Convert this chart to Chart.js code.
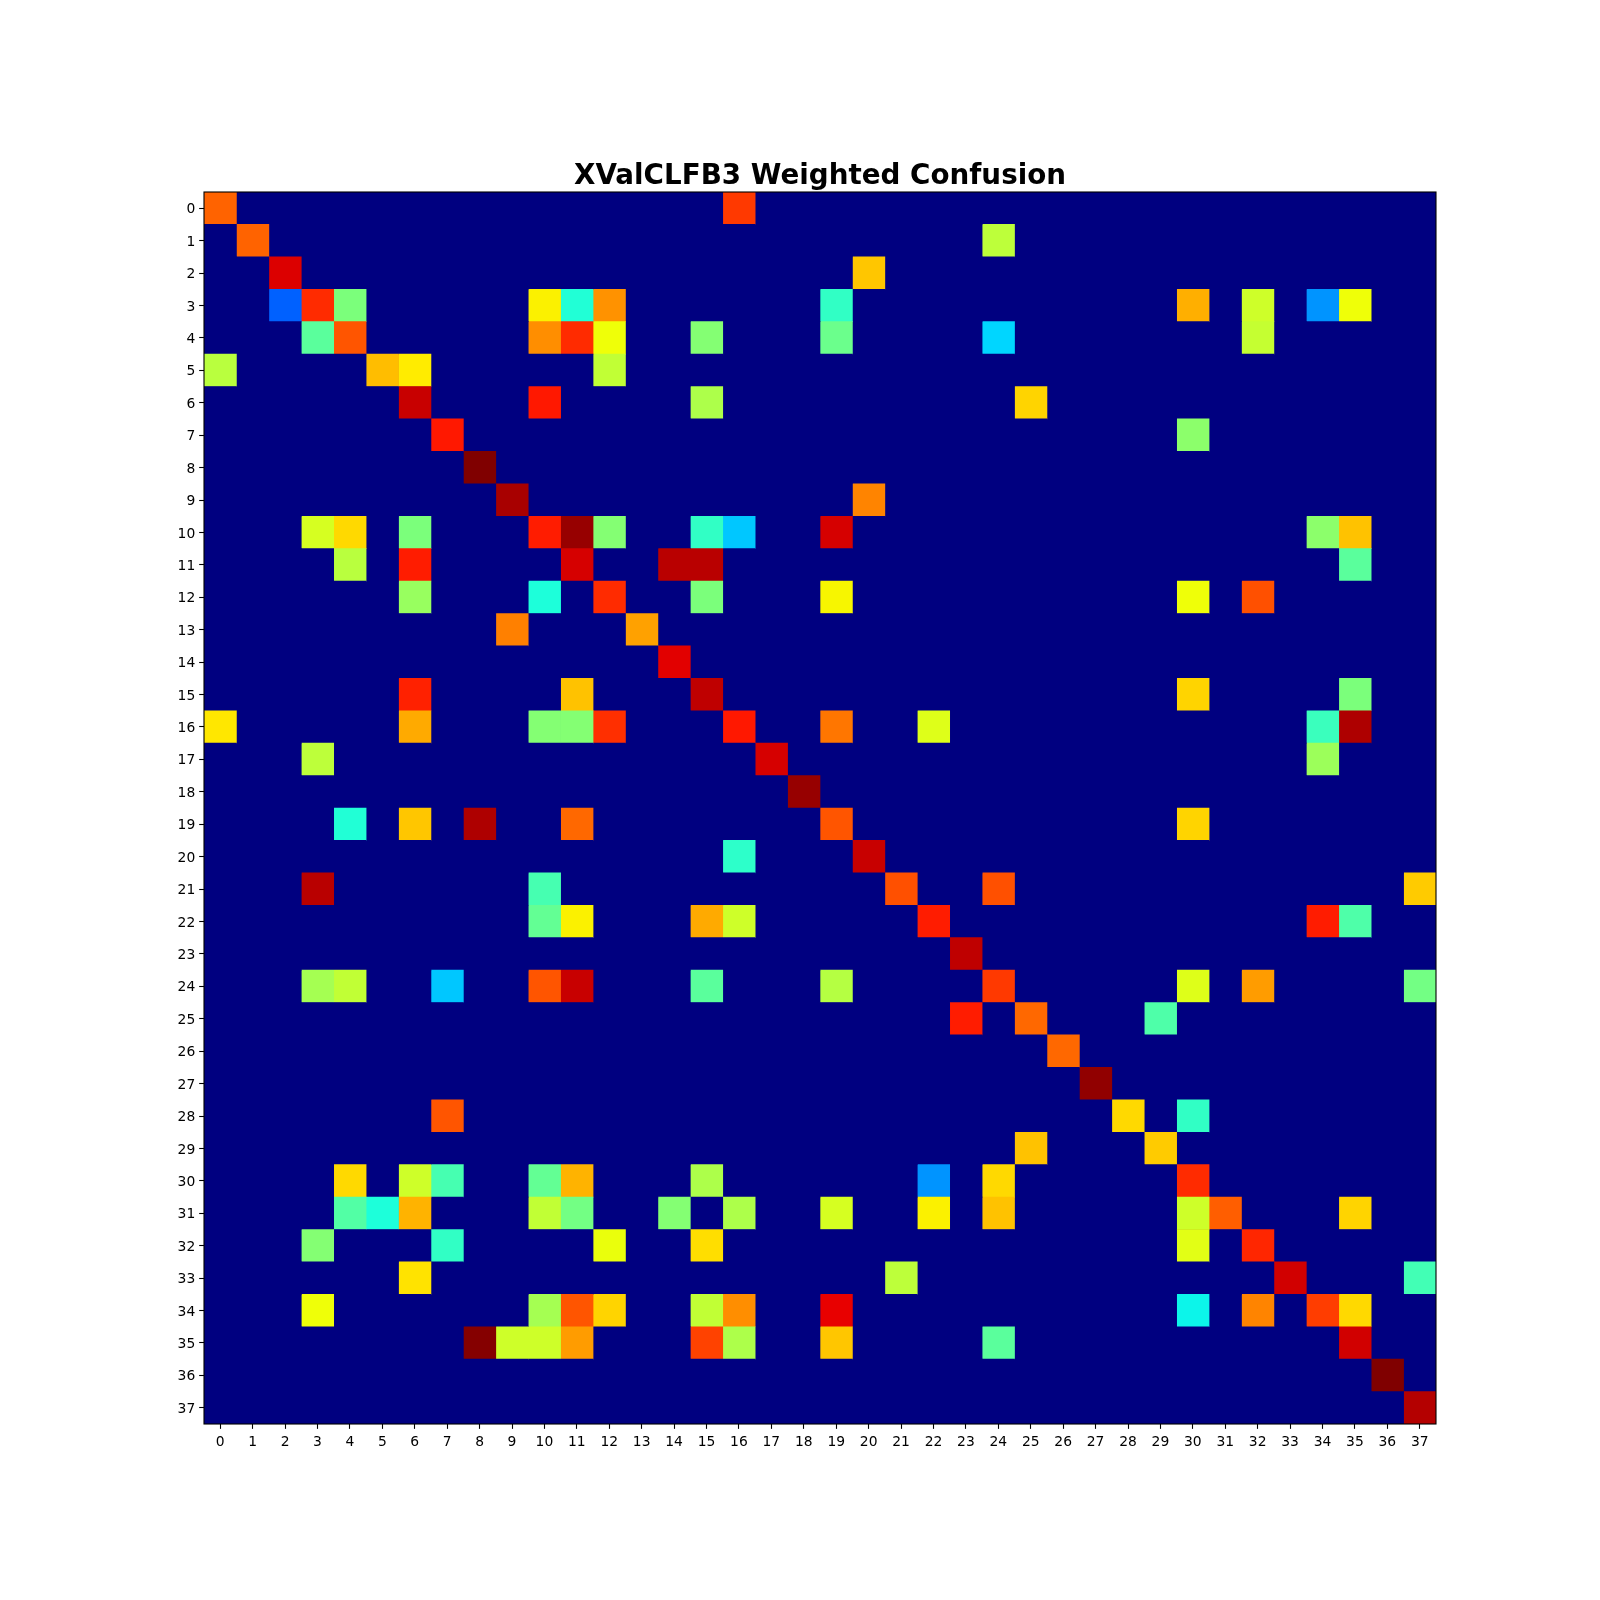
<!DOCTYPE html>
<html>
<head>
<meta charset="utf-8">
<title>XValCLFB3 Weighted Confusion</title>
<script src="https://cdn.jsdelivr.net/npm/chart.js@4/dist/chart.umd.min.js"></script>
<style>
    body { margin: 0; background: #fff; }
    canvas { display: block; }
</style>
</head>
<body>
<canvas id="confusionChart" width="1600" height="1600"></canvas>
<script>
const titleText = 'XValCLFB3 Weighted Confusion';

const classLabels = ['0','1','2','3','4','5','6','7','8','9','10','11','12','13','14','15','16','17','18','19',
    '20','21','22','23','24','25','26','27','28','29','30','31','32','33','34','35','36','37'];

// Non-zero cells of each row: column numbers, then the value of each one
const rowCols = [
    [0,16],
    [1,24],
    [2,20],
    [2,3,4,10,11,12,19,30,32,34,35],
    [3,4,10,11,12,15,19,24,32],
    [0,5,6,12],
    [6,10,15,25],
    [7,30],
    [8],
    [9,20],
    [3,4,6,10,11,12,15,16,19,34,35],
    [4,6,11,14,15,35],
    [6,10,12,15,19,30,32],
    [9,13],
    [14],
    [6,11,15,30,35],
    [0,6,10,11,12,16,19,22,34,35],
    [3,17,34],
    [18],
    [4,6,8,11,19,30],
    [16,20],
    [3,10,21,24,37],
    [10,11,15,16,22,34,35],
    [23],
    [3,4,7,10,11,15,19,24,30,32,37],
    [23,25,29],
    [26],
    [27],
    [7,28,30],
    [25,29],
    [4,6,7,10,11,15,22,24,30],
    [4,5,6,10,11,14,16,19,22,24,30,31,35],
    [3,7,12,15,30,32],
    [6,21,33,37],
    [3,10,11,12,15,16,19,30,32,34,35],
    [8,9,10,11,15,16,19,24,35],
    [36],
    [37]
];

const rowVals = [
    [.805,.85],
    [.805,.58],
    [.92,.70],
    [.22,.865,.50,.655,.39,.755,.41,.725,.60,.27,.64],
    [.46,.82,.76,.865,.64,.51,.48,.335,.59],
    [.575,.71,.66,.585],
    [.9375,.885,.56,.685],
    [.885,.52],
    [1],
    [.965,.77],
    [.61,.68,.50,.88,.98,.51,.41,.32,.925,.52,.705],
    [.575,.88,.925,.95,.95,.46],
    [.535,.385,.865,.50,.65,.64,.825],
    [.775,.74],
    [.915],
    [.875,.705,.945,.685,.50],
    [.665,.73,.51,.51,.86,.885,.785,.62,.42,.96],
    [.58,.925,.54],
    [.98],
    [.39,.70,.96,.80,.82,.685],
    [.405,.9375],
    [.95,.435,.825,.825,.695],
    [.47,.655,.73,.60,.88,.88,.445],
    [.945],
    [.55,.585,.32,.82,.9375,.46,.57,.85,.62,.745,.49],
    [.88,.80,.445],
    [.80],
    [.985],
    [.82,.68,.41],
    [.705,.695],
    [.68,.60,.435,.47,.72,.56,.27,.68,.865],
    [.45,.385,.72,.585,.49,.51,.56,.61,.655,.705,.60,.81,.685],
    [.51,.41,.635,.675,.625,.87],
    [.67,.58,.93,.43],
    [.64,.55,.82,.685,.585,.76,.91,.365,.77,.845,.68],
    [.995,.60,.60,.745,.84,.56,.70,.46,.93],
    [1],
    [.955]
];

// matplotlib jet colormap
function channel(v, stops) {
    for (let i = 1; i < stops.length; i++) {
        if (v <= stops[i][0]) {
            const a = stops[i - 1], b = stops[i];
            return a[1] + (b[1] - a[1]) * (v - a[0]) / (b[0] - a[0]);
        }
    }
    return stops[stops.length - 1][1];
}
function jet(v) {
    const r = channel(v, [[0,0],[.35,0],[.66,1],[.89,1],[1,.5]]);
    const g = channel(v, [[0,0],[.125,0],[.375,1],[.64,1],[.91,0],[1,0]]);
    const b = channel(v, [[0,.5],[.11,1],[.34,1],[.65,0],[1,0]]);
    return `rgb(${Math.round(r * 255)},${Math.round(g * 255)},${Math.round(b * 255)})`;
}

function cellValue(row, col) {
    const i = rowCols[row].indexOf(col);
    return i < 0 ? 0 : rowVals[row][i];
}

// One dataset per column, every cell is a floating bar across its column
const datasets = classLabels.map((_, col) => ({
    data: classLabels.map(() => [col - 0.5, col + 0.5]),
    backgroundColor: classLabels.map((_, row) => jet(cellValue(row, col))),
    borderWidth: 0,
    barPercentage: 1,
    categoryPercentage: 1,
    grouped: false
}));

// Black frame round the plot, and navy under the cells so no seams show
const framePlugin = {
    id: 'frame',
    beforeDatasetsDraw(chart) {
        const a = chart.chartArea, ctx = chart.ctx;
        ctx.save();
        ctx.fillStyle = jet(0);
        ctx.fillRect(a.left, a.top, a.width, a.height);
        ctx.restore();
    },
    afterDraw(chart) {
        const a = chart.chartArea, ctx = chart.ctx;
        ctx.save();
        ctx.strokeStyle = '#000';
        ctx.lineWidth = 1.1;
        ctx.strokeRect(a.left, a.top, a.width, a.height);
        ctx.restore();
    }
};

const tickFont = { family: '"DejaVu Sans"', size: 13.89 };

new Chart(document.getElementById('confusionChart'), {
    type: 'bar',
    data: { labels: classLabels, datasets: datasets },
    plugins: [framePlugin],
    options: {
        indexAxis: 'y',
        responsive: false,
        animation: false,
        layout: { padding: { top: 0, right: 164, bottom: 0, left: 0 } },
        plugins: {
            legend: { display: false },
            tooltip: { enabled: false },
            title: {
                display: true,
                text: titleText,
                fullSize: false,
                color: '#000',
                font: { family: '"DejaVu Sans"', size: 27.78, weight: 'bold', lineHeight: 1.2 },
                padding: { top: 160, bottom: -1.33 }
            }
        },
        scales: {
            x: {
                type: 'linear',
                position: 'bottom',
                min: -0.5,
                max: 37.5,
                afterBuildTicks: (axis) => { axis.ticks = classLabels.map((_, i) => ({ value: i })); },
                afterFit: (axis) => { axis.height = 176; },
                border: { display: false },
                grid: { drawOnChartArea: false, tickLength: 4.86, tickColor: '#000', tickWidth: 1.1 },
                ticks: {
                    autoSkip: false,
                    maxRotation: 0,
                    color: '#000',
                    font: tickFont,
                    padding: 4.86,
                    callback: (v) => classLabels[v]
                }
            },
            y: {
                type: 'category',
                offset: true,
                afterFit: (axis) => { axis.width = 204; },
                border: { display: false },
                grid: { offset: false, drawOnChartArea: false, tickLength: 4.86, tickColor: '#000', tickWidth: 1.1 },
                ticks: {
                    autoSkip: false,
                    color: '#000',
                    font: tickFont,
                    padding: 3.86,
                    labelOffset: 1.5
                }
            }
        }
    }
});
</script>
</body>
</html>
